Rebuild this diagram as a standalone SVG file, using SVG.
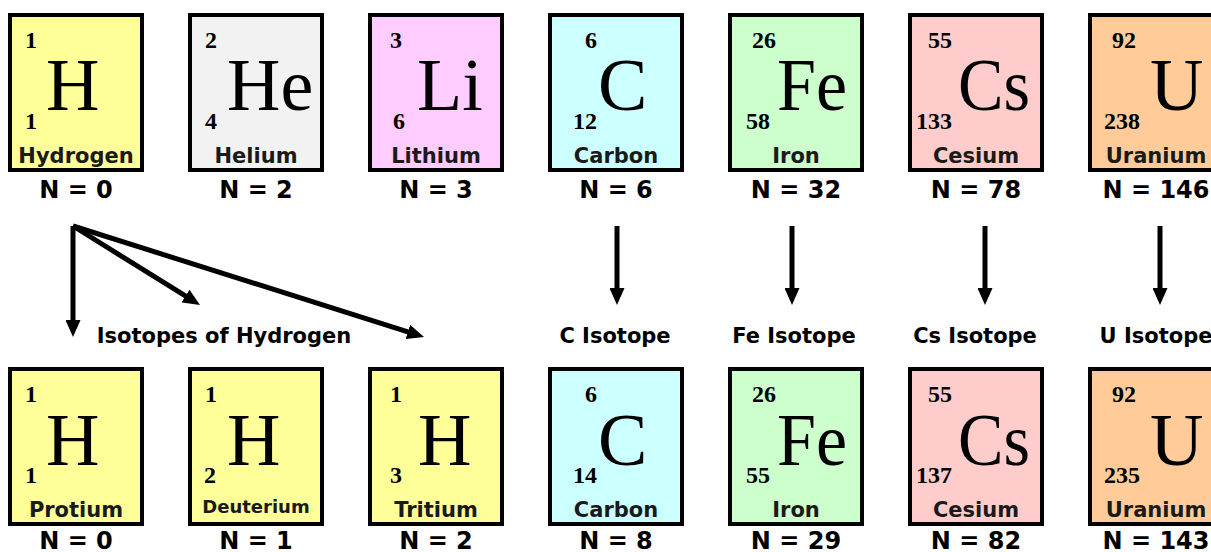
<svg xmlns="http://www.w3.org/2000/svg" width="1211" height="552" viewBox="0 0 1211 552">
<style>
.box{stroke:#000;stroke-width:4}
.num{font-family:"Liberation Serif","Times New Roman",serif;font-weight:bold;font-size:24px;fill:#000}
.sym{font-family:"Liberation Serif","Times New Roman",serif;font-size:74px;fill:#000}
.name{font-family:"DejaVu Sans",Verdana,sans-serif;font-weight:bold;font-size:21px;fill:#1a1a1a;text-anchor:middle}
.n{font-family:"DejaVu Sans",Verdana,sans-serif;font-weight:bold;font-size:24px;fill:#000;text-anchor:middle}
.lbl{font-family:"DejaVu Sans",Tahoma,sans-serif;font-weight:bold;font-size:21px;fill:#000;text-anchor:middle}
.arr{stroke:#000;stroke-width:5;fill:none;marker-end:url(#ah)}
.yel{fill:#FFFF99}.gry{fill:#F2F2F2}.pnk{fill:#FFCCFF}.cyn{fill:#CCFFFF}.grn{fill:#CCFFCC}.red{fill:#FFCCCC}.org{fill:#FFCC99}
</style>
<defs>
<marker id="ah" markerUnits="userSpaceOnUse" markerWidth="17" markerHeight="15" refX="5" refY="7.5" orient="auto">
<path d="M0,0 L17,7.5 L0,15 z" fill="#000"/>
</marker>
</defs>
<rect width="1211" height="552" fill="#fff"/>

<g id="n-H" transform="translate(8,13)">
<rect class="box yel" x="2" y="2" width="132" height="155"/>
<text class="num" x="17" y="35">1</text><text class="num" x="17" y="116">1</text>
<text class="sym" x="38" y="97">H</text>
<text class="name" x="68" y="150">Hydrogen</text>
<text class="n" x="68" y="185">N = 0</text>
</g>
<g id="n-He" transform="translate(188,13)">
<rect class="box gry" x="2" y="2" width="132" height="155"/>
<text class="num" x="17" y="35">2</text><text class="num" x="17" y="116">4</text>
<text class="sym" x="39" y="97">He</text>
<text class="name" x="68" y="150">Helium</text>
<text class="n" x="68" y="185">N = 2</text>
</g>
<g id="n-Li" transform="translate(368,13)">
<rect class="box pnk" x="2" y="2" width="132" height="155"/>
<text class="num" x="22" y="35">3</text><text class="num" x="25" y="116">6</text>
<text class="sym" x="49" y="97">Li</text>
<text class="name" x="68" y="150">Lithium</text>
<text class="n" x="68" y="185">N = 3</text>
</g>
<g id="n-C" transform="translate(548,13)">
<rect class="box cyn" x="2" y="2" width="132" height="155"/>
<text class="num" x="37" y="35">6</text><text class="num" x="25" y="116">12</text>
<text class="sym" x="50" y="97">C</text>
<text class="name" x="68" y="150">Carbon</text>
<text class="n" x="68" y="185">N = 6</text>
</g>
<g id="n-Fe" transform="translate(728,13)">
<rect class="box grn" x="2" y="2" width="132" height="155"/>
<text class="num" x="24" y="35">26</text><text class="num" x="18" y="116">58</text>
<text class="sym" x="49" y="97" textLength="70" lengthAdjust="spacingAndGlyphs">Fe</text>
<text class="name" x="68" y="150">Iron</text>
<text class="n" x="68" y="185">N = 32</text>
</g>
<g id="n-Cs" transform="translate(908,13)">
<rect class="box red" x="2" y="2" width="132" height="155"/>
<text class="num" x="20" y="35">55</text><text class="num" x="8" y="116">133</text>
<text class="sym" x="50" y="97" textLength="72" lengthAdjust="spacingAndGlyphs">Cs</text>
<text class="name" x="68" y="150">Cesium</text>
<text class="n" x="68" y="185">N = 78</text>
</g>
<g id="n-U" transform="translate(1088,13)">
<rect class="box org" x="2" y="2" width="132" height="155"/>
<text class="num" x="24" y="35">92</text><text class="num" x="16" y="116">238</text>
<text class="sym" x="62" y="97">U</text>
<text class="name" x="68" y="150">Uranium</text>
<text class="n" x="68" y="185">N = 146</text>
</g>

<g id="connectors">
<line class="arr" x1="73" y1="226" x2="73" y2="325"/>
<line class="arr" x1="73" y1="226" x2="189.8" y2="298.7"/>
<line class="arr" x1="73" y1="226" x2="412.6" y2="333.4"/>
<line class="arr" x1="617" y1="226" x2="617" y2="293"/>
<line class="arr" x1="792" y1="226" x2="792" y2="293"/>
<line class="arr" x1="985" y1="226" x2="985" y2="293"/>
<line class="arr" x1="1160" y1="226" x2="1160" y2="293"/>
</g>

<g id="labels">
<text class="lbl" x="224" y="343">Isotopes of Hydrogen</text>
<text class="lbl" x="615" y="343">C Isotope</text>
<text class="lbl" x="794" y="343">Fe Isotope</text>
<text class="lbl" x="975" y="343">Cs Isotope</text>
<text class="lbl" x="1156" y="343">U Isotope</text>
</g>

<g id="n-H1" transform="translate(8,367)">
<rect class="box yel" x="2" y="2" width="132" height="155"/>
<text class="num" x="17" y="35">1</text><text class="num" x="17" y="116">1</text>
<text class="sym" x="38" y="98">H</text>
<text class="name" x="68" y="150">Protium</text>
<text class="n" x="68" y="182">N = 0</text>
</g>
<g id="n-H2" transform="translate(188,367)">
<rect class="box yel" x="2" y="2" width="132" height="155"/>
<text class="num" x="17" y="35">1</text><text class="num" x="16" y="116">2</text>
<text class="sym" x="39" y="98">H</text>
<text class="name" x="68" y="146" style="font-size:18px">Deuterium</text>
<text class="n" x="68" y="182">N = 1</text>
</g>
<g id="n-H3" transform="translate(368,367)">
<rect class="box yel" x="2" y="2" width="132" height="155"/>
<text class="num" x="22" y="35">1</text><text class="num" x="22" y="116">3</text>
<text class="sym" x="50" y="98">H</text>
<text class="name" x="68" y="150">Tritium</text>
<text class="n" x="68" y="182">N = 2</text>
</g>
<g id="n-C14" transform="translate(548,367)">
<rect class="box cyn" x="2" y="2" width="132" height="155"/>
<text class="num" x="37" y="35">6</text><text class="num" x="25" y="116">14</text>
<text class="sym" x="50" y="98">C</text>
<text class="name" x="68" y="150">Carbon</text>
<text class="n" x="68" y="182">N = 8</text>
</g>
<g id="n-Fe55" transform="translate(728,367)">
<rect class="box grn" x="2" y="2" width="132" height="155"/>
<text class="num" x="24" y="35">26</text><text class="num" x="18" y="116">55</text>
<text class="sym" x="49" y="98" textLength="70" lengthAdjust="spacingAndGlyphs">Fe</text>
<text class="name" x="68" y="150">Iron</text>
<text class="n" x="68" y="182">N = 29</text>
</g>
<g id="n-Cs137" transform="translate(908,367)">
<rect class="box red" x="2" y="2" width="132" height="155"/>
<text class="num" x="20" y="35">55</text><text class="num" x="8" y="116">137</text>
<text class="sym" x="50" y="98" textLength="72" lengthAdjust="spacingAndGlyphs">Cs</text>
<text class="name" x="68" y="150">Cesium</text>
<text class="n" x="68" y="182">N = 82</text>
</g>
<g id="n-U235" transform="translate(1088,367)">
<rect class="box org" x="2" y="2" width="132" height="155"/>
<text class="num" x="24" y="35">92</text><text class="num" x="16" y="116">235</text>
<text class="sym" x="62" y="98">U</text>
<text class="name" x="68" y="150">Uranium</text>
<text class="n" x="68" y="182">N = 143</text>
</g>
</svg>
